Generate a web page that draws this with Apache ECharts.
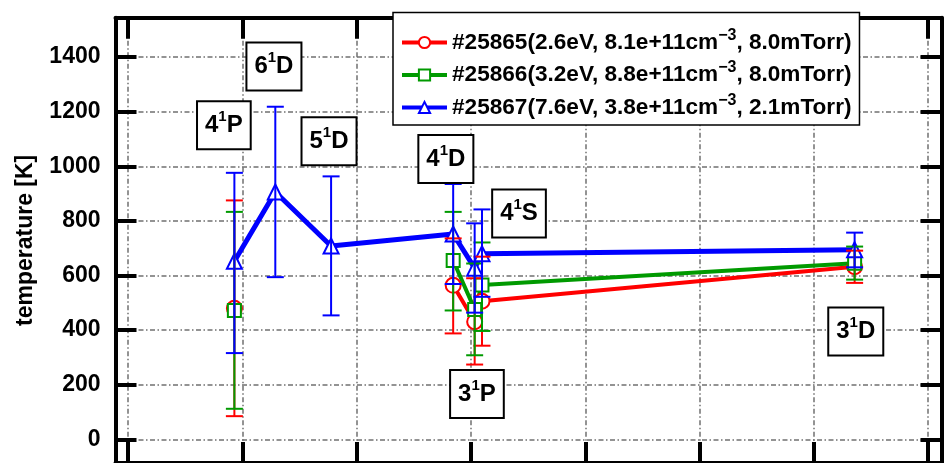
<!DOCTYPE html>
<html>
<head>
<meta charset="utf-8">
<script src="https://cdn.jsdelivr.net/npm/echarts@6/dist/echarts.min.js"></script>
<style>
  html, body { margin: 0; padding: 0; background: #fff; }
  #chart { width: 952px; height: 463px; }
</style>
</head>
<body>
<div id="chart"></div>
<script>
// Emission lines (wavelength, nm) used for the temperature estimate
const lineWavelength = [396.5, 414.4, 438.8, 492.2, 501.6, 504.8, 667.8];
const levelN = ['4', '6', '5', '4', '3', '4', '3'];
const levelL = ['P', 'D', 'D', 'D', 'P', 'S', 'D'];

// Level tag anchors in data space (wavelength, temperature)
const tagX = [391.9, 413.8, 437.9, 489.0, 502.6, 521.0, 668.3];
const tagY = [1150, 1365, 1092, 1027, 166, 827, 395];

// Shots
const shotId = ['#25865', '#25866', '#25867'];
const shotTe = ['2.6', '3.2', '7.6'];
const shotNe = ['8.1e+11', '8.8e+11', '3.8e+11'];
const shotP = ['8.0', '8.0', '2.1'];

// Temperatures [K] with error bar ends
const temp25865 = [480, null, null, 564, 431, 506, 632];
const upper25865 = [875, null, null, 736, 590, 669, 691];
const lower25865 = [85, null, null, 388, 274, 343, 573];

const temp25866 = [472, null, null, 655, 476, 565, 645];
const upper25866 = [833, null, null, 833, 644, 721, 706];
const lower25866 = [112, null, null, 472, 308, 397, 585];

const temp25867 = [652, 906, 708, 752, 627, 680, 694];
const upper25867 = [976, 1218, 963, 935, 791, 842, 757];
const lower25867 = [316, 594, 454, 569, 464, 522, 630];

const FONT = '"Liberation Sans", Arial, sans-serif';
const colors = ['#ff0000', '#009a00', '#0000ff'];
const symbols = ['circle', 'rect', 'triangle'];
const symbolSizes = [15, 13, 15];
const lineWidths = [4, 4, 5];
const temps = [temp25865, temp25866, temp25867];
const uppers = [upper25865, upper25866, upper25867];
const lowers = [lower25865, lower25866, lower25867];

const gridDash = [5, 2.5, 1.5, 2.5];

function linePoints(vals) {
  return lineWavelength.map((w, i) => [w, vals[i]]);
}
function errorPoints(up, lo) {
  const out = [];
  lineWavelength.forEach((w, i) => {
    if (up[i] != null && lo[i] != null) out.push([w, lo[i], up[i]]);
  });
  return out;
}

function errorBarSeries(k) {
  return {
    type: 'custom',
    name: shotId[k],
    z: 3,
    silent: true,
    data: errorPoints(uppers[k], lowers[k]),
    encode: { x: 0, y: [1, 2] },
    renderItem: function (params, api) {
      const x = api.value(0);
      const lo = api.coord([x, api.value(1)]);
      const hi = api.coord([x, api.value(2)]);
      const cap = 8.5;
      const style = { stroke: colors[k], lineWidth: 2 };
      return {
        type: 'group',
        children: [
          { type: 'line', shape: { x1: hi[0], y1: hi[1], x2: lo[0], y2: lo[1] }, style: style },
          { type: 'line', shape: { x1: hi[0] - cap, y1: hi[1], x2: hi[0] + cap, y2: hi[1] }, style: style },
          { type: 'line', shape: { x1: lo[0] - cap, y1: lo[1], x2: lo[0] + cap, y2: lo[1] }, style: style }
        ]
      };
    }
  };
}

function lineSeries(k) {
  return {
    type: 'line',
    name: shotId[k],
    z: 2,
    data: linePoints(temps[k]),
    connectNulls: false,
    symbol: symbols[k],
    symbolSize: symbolSizes[k],
    showAllSymbol: true,
    lineStyle: { color: colors[k], width: lineWidths[k] },
    itemStyle: { color: '#fff', borderColor: colors[k], borderWidth: 2 },
    emphasis: { disabled: true },
    animation: false
  };
}

const tagSeries = {
  type: 'scatter',
  z: 5,
  silent: true,
  symbolSize: 0,
  itemStyle: { opacity: 1 },
  data: tagX.map((x, i) => ({ value: [x, tagY[i]], n: levelN[i], l: levelL[i] })),
  label: {
    show: true,
    position: 'inside',
    opacity: 1,
    formatter: p => '{m|' + p.data.n + '}{s|1}{m|' + p.data.l + '}',
    backgroundColor: '#fff',
    borderColor: '#000',
    borderWidth: 2,
    padding: [7, 7, 7, 7],
    rich: {
      m: { fontFamily: FONT, fontWeight: 'bold', fontSize: 24, color: '#000', lineHeight: 32 },
      s: { fontFamily: FONT, fontWeight: 'bold', fontSize: 15, color: '#000', lineHeight: 14, verticalAlign: 'top' }
    }
  }
};

const frameAxis = {
  axisLine: { onZero: false, lineStyle: { color: '#000', width: 4 } },
  axisTick: { inside: true, length: 21, lineStyle: { color: '#000', width: 4 } }
};

const Y_MIN = -86.5, Y_MAX = 1544;
const X_MIN = 344.5, X_MAX = 705.8;

const chart = echarts.init(document.getElementById('chart'), null, { renderer: 'canvas' });
chart.setOption({
  animation: false,
  backgroundColor: '#fff',
  grid: { left: 115.5, top: 17.7, width: 826, height: 448.8, containLabel: false },
  legend: {
    orient: 'vertical',
    left: 393,
    top: 12.5,
    padding: [15, 8, 6, 7],
    itemGap: 6,
    itemWidth: 45,
    itemHeight: 14,
    backgroundColor: '#fff',
    borderColor: '#000',
    borderWidth: 1.5,
    borderRadius: 0,
    z: 10,
    selectedMode: false,
    data: shotId,
    lineStyle: { width: 4 },
    itemStyle: { borderWidth: 2 },
    formatter: function (name) {
      const k = shotId.indexOf(name);
      return '{m|' + name + '(' + shotTe[k] + 'eV, ' + shotNe[k] + 'cm}{s|\u22123}{m|, ' + shotP[k] + 'mTorr)}';
    },
    textStyle: {
      rich: {
        m: { fontFamily: FONT, fontWeight: 'bold', fontSize: 22.6, color: '#000', lineHeight: 30 },
        s: { fontFamily: FONT, fontWeight: 'bold', fontSize: 16, color: '#000', lineHeight: 12, verticalAlign: 'top' }
      }
    }
  },
  xAxis: [
    Object.assign({
      type: 'value', position: 'bottom', min: X_MIN, max: X_MAX, splitNumber: 7,
      axisLabel: { show: false },
      splitLine: { show: true, showMinLine: false, showMaxLine: false, lineStyle: { color: '#707070', width: 1.5, type: gridDash } }
    }, frameAxis),
    Object.assign({
      type: 'value', position: 'top', min: X_MIN, max: X_MAX, splitNumber: 7,
      axisLabel: { show: false }, splitLine: { show: false }
    }, frameAxis)
  ],
  yAxis: [
    Object.assign({
      type: 'value', position: 'left', min: Y_MIN, max: Y_MAX, splitNumber: 8,
      name: 'temperature [K]',
      nameLocation: 'middle',
      nameGap: 78,
      nameTextStyle: { fontFamily: FONT, fontWeight: 'bold', fontSize: 23, color: '#000' },
      axisLabel: { show: true, showMinLabel: false, showMaxLabel: false, margin: 15,
        formatter: v => String(v),
        fontFamily: FONT, fontWeight: 'bold', fontSize: 23, color: '#000' },
      splitLine: { show: true, showMinLine: false, showMaxLine: false, lineStyle: { color: '#707070', width: 1.5, type: gridDash } }
    }, frameAxis),
    Object.assign({
      type: 'value', position: 'right', min: Y_MIN, max: Y_MAX, splitNumber: 8,
      axisLabel: { show: false }, splitLine: { show: false }
    }, frameAxis)
  ],
  series: [
    lineSeries(0), lineSeries(1), lineSeries(2),
    errorBarSeries(0), errorBarSeries(1), errorBarSeries(2),
    tagSeries
  ]
});
</script>
</body>
</html>
